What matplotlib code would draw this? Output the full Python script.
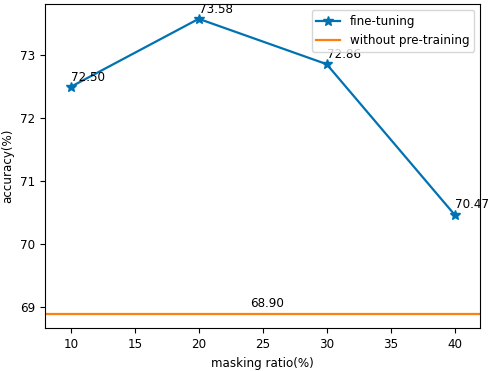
import matplotlib.pyplot as plt

mask_ratio = [10, 20, 30, 40]
acc_finetune = [72.50, 73.58, 72.86, 70.47]
acc_no_pretrain = 68.90

plt.rcParams['font.size'] = 8.6

fig = plt.figure(figsize=(4.91, 3.71), dpi=100)
ax = fig.add_axes([0.092, 0.115, 0.886, 0.874])

ax.plot(mask_ratio, acc_finetune, marker='*', color='#0072b2', linewidth=1.6,
        markersize=7, label='fine-tuning')
ax.axhline(acc_no_pretrain, color='#ff7f0e', linewidth=1.6, label='without pre-training')

for x, y in zip(mask_ratio, acc_finetune):
    ax.text(x, y + 0.1, '%.2f' % y)
ax.text(24, acc_no_pretrain + 0.1, '%.2f' % acc_no_pretrain)

ax.set_xlim(8, 42)
ax.set_ylim(68.666, 73.814)
ax.set_xlabel('masking ratio(%)')
ax.set_ylabel('accuracy(%)')
ax.legend(loc='upper right')

plt.savefig('out.png', dpi=100)
